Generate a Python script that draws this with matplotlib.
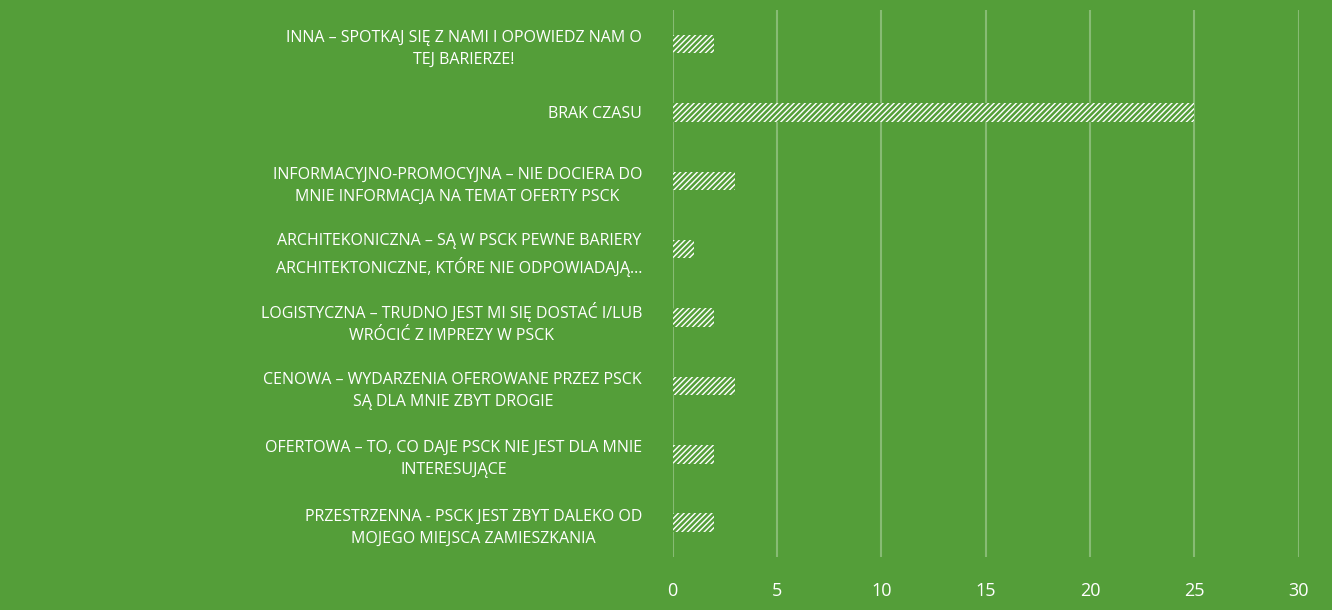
import matplotlib
matplotlib.use("Agg")
import matplotlib.pyplot as plt

# kategorie (od dołu do góry) i liczba odpowiedzi
kategorie = [
    "PRZESTRZENNA - PSCK JEST ZBYT DALEKO OD\nMOJEGO MIEJSCA ZAMIESZKANIA",
    "OFERTOWA – TO, CO DAJE PSCK NIE JEST DLA MNIE\nINTERESUJĄCE",
    "CENOWA – WYDARZENIA OFEROWANE PRZEZ PSCK\nSĄ DLA MNIE ZBYT DROGIE",
    "LOGISTYCZNA – TRUDNO JEST MI SIĘ DOSTAĆ I/LUB\nWRÓCIĆ Z IMPREZY W PSCK",
    "ARCHITEKONICZNA – SĄ W PSCK PEWNE BARIERY\nARCHITEKTONICZNE, KTÓRE NIE ODPOWIADAJĄ…",
    "INFORMACYJNO-PROMOCYJNA – NIE DOCIERA DO\nMNIE INFORMACJA NA TEMAT OFERTY PSCK",
    "BRAK CZASU",
    "INNA – SPOTKAJ SIĘ Z NAMI I OPOWIEDZ NAM O\nTEJ BARIERZE!",
]
wartosci = [2, 2, 3, 2, 1, 3, 25, 2]
ticki = [0, 5, 10, 15, 20, 25, 30]

zielony = "#549e39"
siatka = "#87bb74"

plt.rcParams["font.family"] = ["Open Sans", "DejaVu Sans"]

fig = plt.figure(figsize=(13.32, 6.10), dpi=100, facecolor=zielony)
ax = fig.add_axes([0.505, 0.087, 0.47, 0.897])
ax.set_facecolor(zielony)

y = range(len(kategorie))
slupki = ax.barh(y, wartosci, height=0.27, color="white", edgecolor=zielony,
                 hatch="//////", linewidth=0, zorder=3)
for s in slupki:
    s.set_hatch_linewidth(1.8)

ax.set_xlim(0, 30)
ax.set_ylim(-0.5, len(kategorie) - 0.5)
ax.set_xticks(ticki)
ax.set_xticklabels([str(t) for t in ticki], color="white", fontsize=13)
ax.set_yticks(list(y))
ax.set_yticklabels(kategorie, color="white", fontsize=11.5, ha="right",
                   multialignment="center", linespacing=1.5)
ax.tick_params(axis="both", length=0)
ax.tick_params(axis="x", pad=18)
ax.tick_params(axis="y", pad=22)
ax.grid(axis="x", color=siatka, linewidth=1.5, zorder=0)
for s in ax.spines.values():
    s.set_visible(False)

fig.savefig("out.png", dpi=100, facecolor=zielony)
